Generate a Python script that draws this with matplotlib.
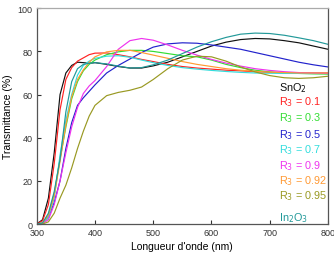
import matplotlib
matplotlib.use("Agg")
import matplotlib.pyplot as plt

plt.rcParams['font.family'] = ['Liberation Sans', 'DejaVu Sans']

# longueur d'onde (nm)
wl = [300, 310, 320, 330, 340, 350, 360, 370, 380, 390, 400, 420, 440, 460,
      480, 500, 525, 550, 575, 600, 625, 650, 675, 700, 725, 750, 775, 800]

snO2 = [0, 2, 12, 33, 60, 70, 73.5, 75, 74.8, 74.5, 74.8, 74, 73, 72.3,
        72.3, 73.3, 75, 77.5, 80, 82.5, 84.3, 85.5, 86, 85.8, 85, 84, 82.5, 81]
r_01 = [0, 1.5, 9, 28, 53, 67, 72.5, 75.5, 77, 78.5, 79.2, 79.3, 78.5, 77.5,
        76.3, 75.3, 74, 73, 72.3, 71.8, 71.3, 71, 70.6, 70.3, 70.2, 70, 70, 70]
r_03 = [0, 0.5, 4, 14, 30, 45, 58, 66, 71, 74, 76, 78.5, 79.8, 80.5,
        80.5, 80, 79, 78, 77.5, 76, 74, 72.5, 71.3, 70.5, 70, 69.8, 69.6, 69.5]
r_05 = [0, 0.3, 3, 10, 20, 35, 47, 55, 58.5, 61.5, 64.5, 70, 73.5, 76.5,
        79.5, 82, 83.5, 84, 83.8, 83, 82, 81, 79.5, 78, 76.5, 75, 73.8, 72.8]
r_07 = [0, 0.3, 3, 12, 32, 48, 60, 69, 73.5, 75.5, 76.8, 77.8, 78, 77.3,
        76, 74.8, 73.5, 72.5, 71.8, 71.2, 70.7, 70.3, 70, 69.9, 69.8, 69.8, 69.8, 69.8]
r_09 = [0, 0.2, 2, 9, 20, 33, 45, 54, 60.5, 64, 66.5, 73, 81, 85,
        86, 85.2, 83, 80.5, 78.3, 76.3, 74.6, 73.2, 72, 71.2, 70.6, 70.2, 70, 69.8]
r_092 = [0, 0.4, 4, 13, 29, 46, 59, 67, 71.5, 75, 77.5, 79.8, 80.5, 80.5,
         79.5, 78.3, 76.8, 75.3, 74, 73, 72, 71.3, 70.8, 70.4, 70.2, 70, 70, 70]
r_095 = [0, 0, 1, 5, 12, 18, 26, 35, 43, 50, 55, 59.5, 61, 62,
         63.5, 67, 72, 76, 77.8, 77.5, 75.5, 72.8, 70.5, 68.8, 67.8, 67.5, 67.8, 68.5]
in2O3 = [0, 0.5, 5, 15, 30, 52, 66, 72, 74, 74.5, 74.8, 74.2, 73.2, 72.3,
         72.5, 73.8, 76, 79, 82, 84.5, 86.5, 88, 88.5, 88.3, 87.5, 86.3, 85, 83.3]

labels = ['SnO$_2$', 'R$_3$ = 0.1', 'R$_3$ = 0.3', 'R$_3$ = 0.5', 'R$_3$ = 0.7',
          'R$_3$ = 0.9', 'R$_3$ = 0.92', 'R$_3$ = 0.95', 'In$_2$O$_3$']
series = [snO2, r_01, r_03, r_05, r_07, r_09, r_092, r_095, in2O3]
colors = ['#111111', '#ff2222', '#33dd33', '#2222cc', '#33dddd',
          '#ee33ee', '#ff9933', '#999922', '#229999']

fig = plt.figure(figsize=(3.34, 2.55), dpi=100)
ax = fig.add_axes([0.11, 0.1176, 0.872, 0.846])

for y, c in zip(series, colors):
    ax.plot(wl, y, color=c, lw=0.85)

ax.set_xlim(300, 800)
ax.set_ylim(0, 100)
ax.set_xticks([300, 400, 500, 600, 700, 800])
ax.set_yticks([0, 20, 40, 60, 80, 100])
ax.tick_params(direction='in', labelsize=6.5, length=3, width=0.8,
               colors='#333333', pad=3)
for s in ax.spines.values():
    s.set_color('#555555')
    s.set_linewidth(0.9)
ax.spines['top'].set_color('#aaaaaa')

ax.set_xlabel("Longueur d'onde (nm)", fontsize=7.5, labelpad=3)
ax.set_ylabel("Transmittance (%)", fontsize=7.5, labelpad=3)

# label positions (axes fraction)
ys = [63.5, 57, 49.6, 41.7, 34.8, 27.4, 20.4, 13.4, 3.2]
for lab, c, yy in zip(labels, colors, ys):
    ax.text(0.832, yy / 100, lab, color=c, fontsize=7.8,
            transform=ax.transAxes, va='center', ha='left')

fig.savefig('out.png', dpi=100)
